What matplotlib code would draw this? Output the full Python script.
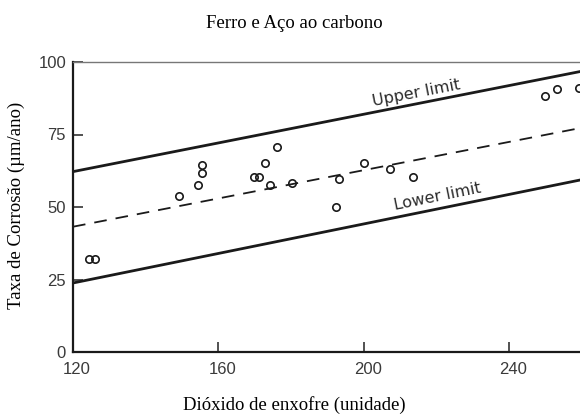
import matplotlib
matplotlib.use("Agg")
import matplotlib.pyplot as plt
from matplotlib.transforms import ScaledTranslation

# pontos medidos (dióxido de enxofre x taxa de corrosão)
so2 = [124.3, 126.0, 149.2, 154.3, 155.5, 155.5, 169.8, 171.2, 172.7, 176.0,
       174.1, 180.2, 193.1, 192.3, 200.2, 207.1, 213.5, 249.9, 253.2, 259.3]
taxa = [32.1, 32.1, 53.8, 57.5, 64.5, 61.8, 60.2, 60.2, 65.3, 70.6,
        57.5, 58.4, 59.7, 50.1, 65.3, 63.0, 60.2, 88.4, 90.6, 90.9]

# retas de limite (extremos)
linha_x = [120, 259.5]
limite_sup = [62.2, 96.7]
media = [43.2, 77.2]
limite_inf = [23.8, 59.3]

xticks = [120, 160, 200, 240]
yticks = [0, 25, 50, 75, 100]

fig = plt.figure(figsize=(5.8, 4.17), dpi=100)
ax = fig.add_axes([73 / 580, 1 - 352 / 417, 1 - 73 / 580, (352 - 62) / 417])

ax.plot(linha_x, limite_sup, color="#1a1a1a", lw=2.0)
ax.plot(linha_x, limite_inf, color="#1a1a1a", lw=2.0)
ax.plot(linha_x, media, color="#1a1a1a", lw=1.3, dashes=(7, 5))
ax.plot(so2, taxa, "o", ms=5.3, mfc="none", mec="#1a1a1a", mew=1.2,
        linestyle="none", clip_on=True)

ax.text(214.4, 89.2, "Upper limit", rotation=11, ha="center", va="center",
        rotation_mode="anchor", fontsize=11.5, color="#2a2a2a",
        family="DejaVu Sans")
ax.text(220.4, 53.6, "Lower limit", rotation=11.5, ha="center", va="center",
        rotation_mode="anchor", fontsize=11.5, color="#2a2a2a",
        family="DejaVu Sans")

ax.set_xlim(120, 259.5)
ax.set_ylim(0, 100)
ax.set_xticks(xticks)
ax.set_yticks(yticks)
ax.tick_params(direction="in", length=7, width=1.2, colors="#333333",
               labelsize=12)
ax.tick_params(axis="x", pad=7)
ax.tick_params(axis="y", pad=5)
desloc = ScaledTranslation(4 / 100, 0, fig.dpi_scale_trans)
for lab in ax.get_xticklabels():
    lab.set_transform(lab.get_transform() + desloc)
for lab in ax.get_xticklabels() + ax.get_yticklabels():
    lab.set_family("Liberation Sans")
    lab.set_color("#3a3a3a")

ax.spines["right"].set_visible(False)
ax.spines["left"].set_linewidth(1.6)
ax.spines["bottom"].set_linewidth(1.6)
ax.spines["left"].set_color("#1a1a1a")
ax.spines["bottom"].set_color("#1a1a1a")
ax.spines["top"].set_linewidth(1.0)
ax.spines["top"].set_color("#777777")

fig.text(0.507, 1 - 24 / 417, "Ferro e Aço ao carbono", ha="center",
         va="center", fontsize=13.5, family="Liberation Serif")
fig.text(0.507, 1 - 405 / 417, "Dióxido de enxofre (unidade)", ha="center",
         va="center", fontsize=13.5, family="Liberation Serif")
fig.text(16 / 580, 1 - 205 / 417, "Taxa de Corrosão (µm/ano)", ha="center",
         va="center", rotation=90, fontsize=13.5, family="Liberation Serif")

fig.savefig("out.png", dpi=100)
